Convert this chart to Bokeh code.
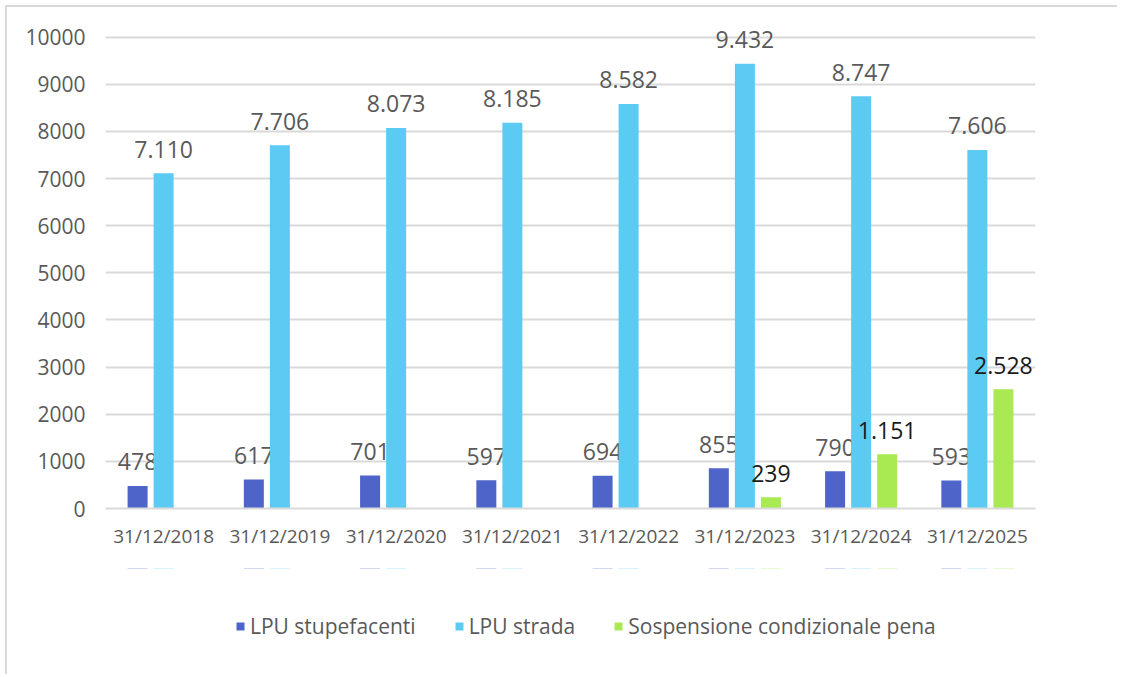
from bokeh.plotting import figure
from bokeh.layouts import column
from bokeh.models import ColumnDataSource, FactorRange, Legend, LegendItem, FixedTicker, Range1d
from bokeh.transform import dodge
from bokeh.core.properties import value
from bokeh.embed import file_html
from bokeh.resources import INLINE

categories = ["31/12/2018", "31/12/2019", "31/12/2020", "31/12/2021",
              "31/12/2022", "31/12/2023", "31/12/2024", "31/12/2025"]
lpu_stupefacenti = [478, 617, 701, 597, 694, 855, 790, 593]
lpu_strada = [7110, 7706, 8073, 8185, 8582, 9432, 8747, 7606]
sospensione = [None, None, None, None, None, 239, 1151, 2528]
series_names = ["LPU stupefacenti", "LPU strada", "Sospensione condizionale pena"]
y_ticks = [0, 1000, 2000, 3000, 4000, 5000, 6000, 7000, 8000, 9000, 10000]

colors = ["#4E64C8", "#5BCBF3", "#A9EA52"]
label_colors = ["#595959", "#595959", "#1a1a1a"]
offsets = [-0.224, 0.0, 0.224]
FONT = "Open Sans"

def fmt(v):
    return f"{v:,}".replace(",", ".")

p = figure(x_range=FactorRange(*categories, range_padding=0), y_range=(0, 10500),
           width=1110, height=561, output_backend="svg", toolbar_location=None,
           min_border_left=98, min_border_right=82, min_border_top=6, min_border_bottom=60)
p.outline_line_color = None
p.background_fill_color = "white"
p.border_fill_color = "white"

# legend strip below the chart: its legend renderers are zero-height bars,
# so only the legend itself is visible there
lf = figure(width=1110, height=106, x_range=p.x_range, y_range=Range1d(-30000, -20000),
            output_backend="svg", toolbar_location=None,
            x_axis_type=None, y_axis_type=None,
            min_border_left=98, min_border_right=82, min_border_top=0, min_border_bottom=0)
lf.outline_line_color = None
lf.xgrid.visible = False
lf.ygrid.visible = False

items = []
for name, vals, col, lcol, off in zip(series_names, [lpu_stupefacenti, lpu_strada, sospensione],
                                      colors, label_colors, offsets):
    cats = [c for c, v in zip(categories, vals) if v is not None]
    vv = [v for v in vals if v is not None]
    src = ColumnDataSource(dict(cat=cats, val=vv, lab=[fmt(v) for v in vv]))
    p.vbar(x=dodge("cat", off, range=p.x_range), top="val", width=0.172, source=src,
           fill_color=col, line_color=None)
    p.text(x=dodge("cat", off, range=p.x_range), y="val", text="lab", source=src,
           text_align="center", text_baseline="middle", y_offset=-24,
           text_font=value(FONT), text_font_size="23px", text_color=lcol)
    r = lf.vbar(x=dodge("cat", off, range=p.x_range), top="val", bottom="val", width=0.172,
                source=src, fill_color=col, line_color=None)
    items.append(LegendItem(label=name, renderers=[r]))

legend = Legend(items=items, orientation="horizontal", location=(130, 34),
                glyph_width=10, glyph_height=10, label_standoff=5, spacing=38,
                padding=0, margin=0, border_line_color=None, background_fill_alpha=0,
                label_text_font=FONT, label_text_font_size="21px", label_text_color="#595959",
                label_height=20)
lf.add_layout(legend, "center")

p.yaxis.ticker = FixedTicker(ticks=y_ticks)
p.yaxis.axis_line_color = None
p.yaxis.major_tick_line_color = None
p.yaxis.major_tick_out = 0
p.yaxis.minor_tick_line_color = None
p.yaxis.major_label_standoff = 20
p.yaxis.major_label_text_font = FONT
p.yaxis.major_label_text_font_size = "21px"
p.yaxis.major_label_text_color = "#595959"

p.xaxis.axis_line_color = "#d9d9d9"
p.xaxis.axis_line_width = 2
p.xaxis.major_tick_line_color = None
p.xaxis.major_tick_out = 0
p.xaxis.minor_tick_line_color = None
p.xaxis.major_label_standoff = 14
p.xaxis.major_label_text_font = FONT
p.xaxis.major_label_text_font_size = "19px"
p.xaxis.major_label_text_color = "#595959"

p.xgrid.grid_line_color = None
p.ygrid.grid_line_color = "#d9d9d9"
p.ygrid.grid_line_width = 2

layout = column(p, lf, spacing=0,
                styles={"border-left": "2px solid #d9d9d9", "border-top": "2px solid #d9d9d9",
                        "margin-left": "5px", "margin-top": "5px"})

open("out.html", "w").write(file_html(layout, INLINE))
